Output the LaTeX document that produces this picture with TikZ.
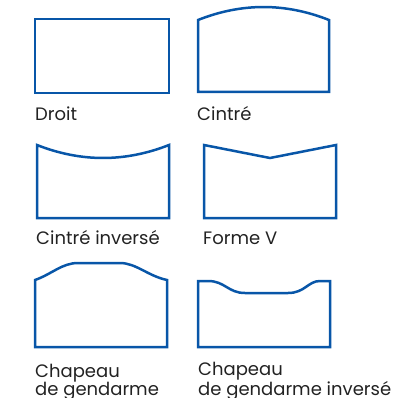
\documentclass[tikz,border=0pt]{standalone}
\usepackage{fontspec}
\setmainfont{Poppins}
\usepackage{xcolor}
\usepackage{tikz}
\definecolor{frameblue}{RGB}{8,86,168}
\definecolor{txtgray}{RGB}{34,34,34}
\tikzset{
  frm/.style={draw=frameblue,line width=2.5pt,line join=miter},
  lbl/.style={anchor=base west,inner sep=0pt,text=txtgray,align=left,font=\fontsize{18}{18}\selectfont}
}

\begin{document}
\begin{tikzpicture}[x=1pt,y=-1pt]
\useasboundingbox (0,0) rectangle (392,398);
% droit
\draw[frm] (35,19) rectangle (169,93); \node[lbl] (droit) at (35,120.5) {Droit};
% cintre
\draw[frm] (198,92) -- (198,20) .. controls (241.7,2.7) and (285.3,2.7) .. (329,20) -- (329,92) -- cycle; \node[lbl] (cintre) at (197,121) {Cintré};
% cintre inverse
\draw[frm] (37,218) -- (37,145) .. controls (81,162.3) and (125,162.3) .. (169,145) -- (169,218) -- cycle; \node[lbl] (cinv) at (36,244) {Cintré inversé};
% forme V
\draw[frm] (204,218) -- (204,145) -- (270,158) -- (336,145) -- (336,218) -- cycle; \node[lbl] (formev) at (203,244) {Forme V};
% chapeau de gendarme
\draw[frm] (35,347) -- (35,280) .. controls (52,274) and (62,263) .. (78,263) -- (120,263) .. controls (136,263) and (148,276) .. (167,280) -- (167,347) -- cycle; \node[lbl] (chap) at (35,395) {Chapeau\\de gendarme};
% chapeau inverse
\draw[frm] (198,347) -- (198,281) -- (208,281) .. controls (225,281) and (228,293) .. (245,293) -- (288,293) .. controls (305,293) and (308,281) .. (320,281) -- (330,281) -- (330,347) -- cycle; \node[lbl] (chapinv) at (198,395) {Chapeau\\de gendarme inversé};
\end{tikzpicture}
\end{document}
